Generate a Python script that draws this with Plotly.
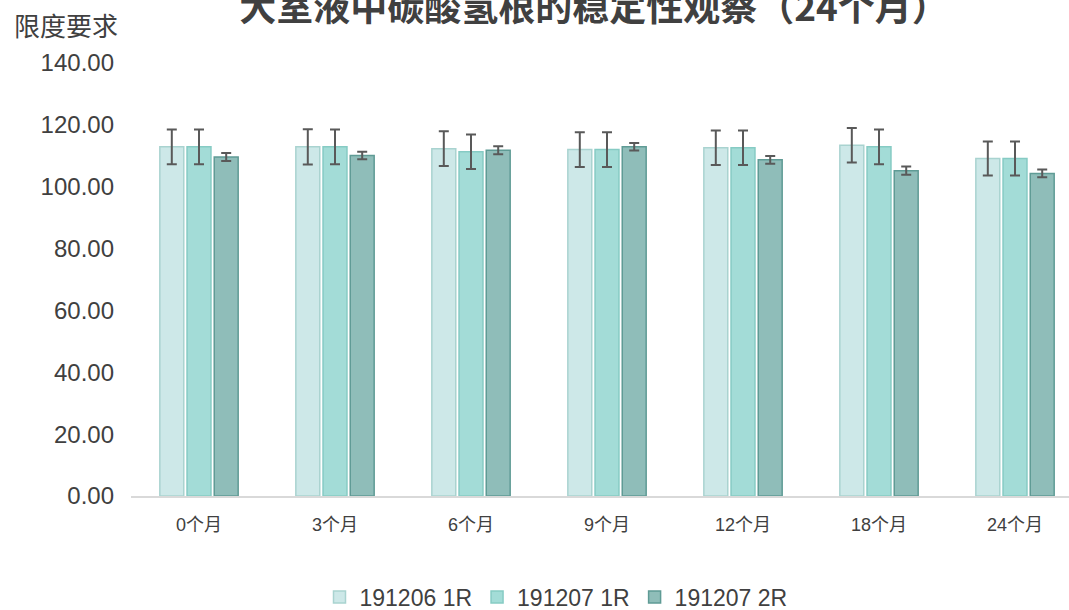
import plotly.graph_objects as go

categories = ["0个月", "3个月", "6个月", "9个月", "12个月", "18个月", "24个月"]
series_names = ["191206 1R", "191207 1R", "191207 2R"]
s1_values = [112.9, 112.9, 112.3, 112.0, 112.6, 113.4, 109.1]
s2_values = [112.9, 112.9, 111.3, 112.0, 112.6, 112.9, 109.1]
s3_values = [109.6, 110.1, 111.8, 112.9, 108.7, 105.2, 104.3]
s1_errors = [5.6, 5.7, 5.6, 5.6, 5.6, 5.6, 5.5]
s2_errors = [5.6, 5.6, 5.6, 5.6, 5.6, 5.6, 5.5]
s3_errors = [1.3, 1.2, 1.3, 1.2, 1.25, 1.3, 1.25]
y_ticks = [0, 20, 40, 60, 80, 100, 120, 140]

fills = ["#cde8e8", "#a3dcd7", "#8fbdb9"]
lines = ["#a9d3d0", "#86cbc4", "#5f9b95"]

CJK = "Liberation Sans, Noto Sans CJK SC, sans-serif"

fig = go.Figure()
for name, vals, errs, fc, lc in zip(series_names, [s1_values, s2_values, s3_values],
                                    [s1_errors, s2_errors, s3_errors], fills, lines):
    fig.add_trace(go.Bar(
        x=categories, y=vals, name=name,
        marker=dict(color=fc, line=dict(color=lc, width=1.5)),
        error_y=dict(type="data", array=errs, visible=True, color="#595959",
                     thickness=2, width=5),
    ))

fig.update_layout(
    width=1069, height=610,
    margin=dict(l=131, r=0, t=63, b=114),
    paper_bgcolor="white", plot_bgcolor="white",
    barmode="group", bargap=0.4, bargroupgap=0.12,
    font=dict(family=CJK, color="#404040"),
    title=dict(text="<b>大室液中碳酸氢根的稳定性观察（24个月）</b>",
               font=dict(family="Noto Sans CJK SC, sans-serif", size=37, color="#404040"),
               x=594 / 1069, xanchor="center", xref="container",
               y=1 - 8 / 610, yanchor="middle", yref="container"),
    xaxis=dict(type="category", range=[-0.5, 6.397], showgrid=False,
               showline=True, linecolor="#d9d9d9", linewidth=2,
               ticks="", tickfont=dict(size=18, color="#404040"),
               ticklabelstandoff=11),
    yaxis=dict(range=[0, 140], tickvals=y_ticks, tickformat=".2f",
               showgrid=False, zeroline=False, showline=False,
               tickfont=dict(size=24, color="#404040"), ticklabelstandoff=16),
    legend=dict(orientation="h", xref="container", yref="container",
                x=556 / 1069, xanchor="center", y=1 - 597 / 610, yanchor="middle",
                font=dict(size=23, color="#404040"), itemwidth=30, traceorder="normal"),
    showlegend=True,
)

fig.add_annotation(text="限度要求", xref="paper", yref="paper", x=-131 / 938, xanchor="left",
                   y=1 + 38 / 433, yanchor="middle", showarrow=False,
                   font=dict(family="Noto Sans CJK SC, sans-serif", size=26, color="#404040"),
                   xshift=12)

fig.write_html("out.html", config={"displayModeBar": False},
               post_script="document.body.style.margin='0';document.body.style.overflow='hidden';")
